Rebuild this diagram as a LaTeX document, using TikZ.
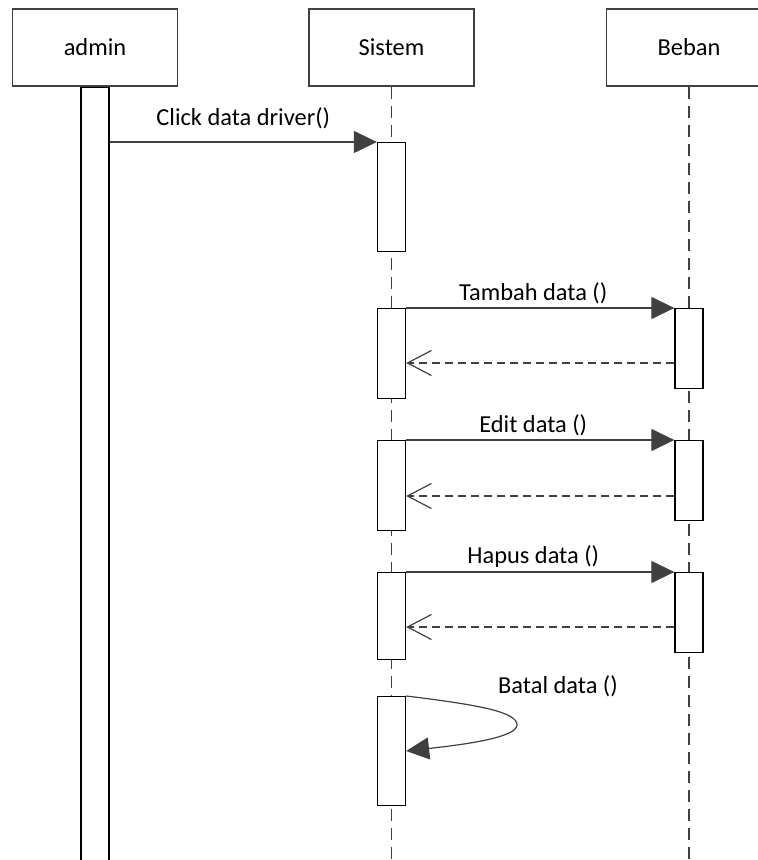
\documentclass[tikz,border=0pt]{standalone}
\usepackage{fontspec}
\setmainfont{Carlito}
\usetikzlibrary{arrows.meta}
\definecolor{linegray}{HTML}{404040}

\begin{document}
\begin{tikzpicture}[x=0.5pt, y=-0.5pt,
        head/.style={draw=linegray, line width=0.6pt, minimum width=82.5pt, minimum height=38.5pt, inner sep=0pt, font=\fontsize{12.2}{14}\selectfont},
        act/.style={draw=black, fill=white, line width=0.65pt, minimum width=14pt, inner sep=0pt, anchor=north},
        life/.style={draw=linegray, line width=0.6pt, dash pattern=on 6pt off 3.5pt},
        msg/.style={draw=linegray, line width=0.6pt, -{Triangle[length=11.5pt, width=11pt]}},
        ret/.style={draw=linegray, line width=0.6pt, dash pattern=on 4pt off 2.5pt, -{Straight Barb[length=12pt, width=12.5pt]}},
        lbl/.style={font=\fontsize{12.2}{14}\selectfont, inner sep=0pt, anchor=base}]
        \useasboundingbox (0,0) rectangle (758,860);

        % Lifeline heads
        \node[head] (admin) at (95,47.5) {admin};
        \node[head] (sistem) at (391.5,47.5) {Sistem};
        \node[head] (beban) at (689,47.5) {Beban};

        % Dashed lifelines
        \draw[life] (sistem.south) -- (sistem.south |- 0,870);
        \draw[life] (beban.south) -- (beban.south |- 0,870);

        % Activation bars
        \node[act, minimum height=392pt] (aact) at (admin.south) {};
        \node[act, minimum height=54.5pt] (sact1) at (sistem.south |- 0,142) {};
        \node[act, minimum height=45pt] (sact2) at (sistem.south |- 0,308) {};
        \node[act, minimum height=45pt] (sact3) at (sistem.south |- 0,440) {};
        \node[act, minimum height=43.5pt] (sact4) at (sistem.south |- 0,572) {};
        \node[act, minimum height=54.5pt] (sact5) at (sistem.south |- 0,696) {};
        \node[act, minimum height=40pt] (bact1) at (beban.south |- 0,308) {};
        \node[act, minimum height=40pt] (bact2) at (beban.south |- 0,440) {};
        \node[act, minimum height=40pt] (bact3) at (beban.south |- 0,572) {};

        % Calls
        \draw[msg] (aact.east |- sact1.north) -- (sact1.north west)
            node[lbl, midway, yshift=8pt] {Click data driver()};
        \draw[msg] (sact2.north east) -- (bact1.north west)
            node[lbl, midway, xshift=-3.5pt, yshift=3.5pt] {Tambah data ()};
        \draw[msg] (sact3.north east) -- (bact2.north west)
            node[lbl, midway, xshift=-3.5pt, yshift=4pt] {Edit data ()};
        \draw[msg] (sact4.north east) -- (bact3.north west)
            node[lbl, midway, xshift=-3.5pt, yshift=4.5pt] {Hapus data ()};

        % Replies
        \draw[ret] (bact1.west |- 0,363) -- (sact2.east |- 0,363);
        \draw[ret] (bact2.west |- 0,496) -- (sact3.east |- 0,496);
        \draw[ret] (bact3.west |- 0,627) -- (sact4.east |- 0,627);

        % Self call
        \draw[msg] (sact5.north east) .. controls (480,705) and (517,712) .. (517,725)
            .. controls (517,738) and (460,745) .. (sact5.east |- 0,751);
        \node[lbl] (batal) at (558,693) {Batal data ()};
    \end{tikzpicture}
\end{document}
